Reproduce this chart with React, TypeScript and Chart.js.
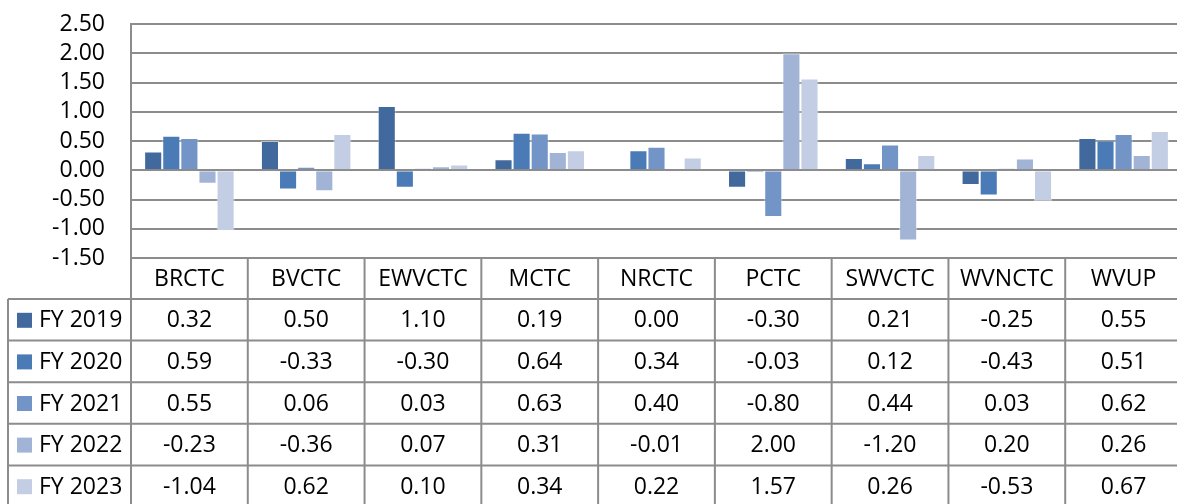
import React, { useEffect, useRef } from "react";
import { Chart, registerables } from "chart.js";

Chart.register(...registerables);

const categories = ["BRCTC", "BVCTC", "EWVCTC", "MCTC", "NRCTC", "PCTC", "SWVCTC", "WVNCTC", "WVUP"];
const seriesNames = ["FY 2019", "FY 2020", "FY 2021", "FY 2022", "FY 2023"];
const fy2019 = [0.32, 0.5, 1.1, 0.19, 0.0, -0.3, 0.21, -0.25, 0.55];
const fy2020 = [0.59, -0.33, -0.3, 0.64, 0.34, -0.03, 0.12, -0.43, 0.51];
const fy2021 = [0.55, 0.06, 0.03, 0.63, 0.4, -0.8, 0.44, 0.03, 0.62];
const fy2022 = [-0.23, -0.36, 0.07, 0.31, -0.01, 2.0, -1.2, 0.2, 0.26];
const fy2023 = [-1.04, 0.62, 0.1, 0.34, 0.22, 1.57, 0.26, -0.53, 0.67];
const seriesColors = ["#41699e", "#4a7bb6", "#7394c7", "#a2b4d6", "#c3cde3"];
const yTicks = [-1.5, -1.0, -0.5, 0.0, 0.5, 1.0, 1.5, 2.0, 2.5];

const allSeries = [fy2019, fy2020, fy2021, fy2022, fy2023];

const FONT = "'Open Sans', 'Noto Sans', sans-serif";
const FONT_SIZE = 23;
const GRID = "#8c8c8c";

const tablePlugin = {
  id: "dataTable",
  afterDraw(chart: any) {
    const ctx = chart.ctx as CanvasRenderingContext2D;
    const { left, right, bottom } = chart.chartArea;
    const n = categories.length;
    const w = (right - left) / n;
    const headerH = 41;
    const rowH = 41.6;
    const rowTop = bottom + headerH;
    const tableLeft = 8;
    const endY = 520;
    ctx.save();
    ctx.strokeStyle = GRID;
    ctx.lineWidth = 2;
    ctx.beginPath();
    for (let j = 0; j <= n; j++) {
      const xx = left + j * w;
      ctx.moveTo(xx, bottom);
      ctx.lineTo(xx, endY);
    }
    ctx.moveTo(tableLeft, rowTop);
    ctx.lineTo(tableLeft, endY);
    for (let k = 0; k <= seriesNames.length; k++) {
      const yy = rowTop + k * rowH;
      ctx.moveTo(tableLeft, yy);
      ctx.lineTo(right, yy);
    }
    ctx.stroke();

    ctx.fillStyle = "#000";
    ctx.font = `${FONT_SIZE}px ${FONT}`;
    ctx.textBaseline = "middle";
    ctx.textAlign = "center";
    categories.forEach((c, i) => {
      ctx.fillText(c, left + (i + 0.5) * w, bottom + headerH / 2 + 1);
    });
    allSeries.forEach((s, r) => {
      const cy = rowTop + (r + 0.5) * rowH + 1;
      ctx.textAlign = "center";
      ctx.fillStyle = "#000";
      s.forEach((v, i) => {
        ctx.fillText(v.toFixed(2), left + (i + 0.5) * w, cy);
      });
      ctx.fillStyle = seriesColors[r];
      ctx.fillRect(17, cy - 8, 15, 15);
      ctx.fillStyle = "#000";
      ctx.textAlign = "left";
      ctx.fillText(seriesNames[r], 39, cy);
    });
    ctx.restore();
  },
};

export default function App() {
  const ref = useRef<HTMLCanvasElement>(null);
  useEffect(() => {
    document.body.style.margin = "0";
    document.documentElement.style.overflow = "hidden";
    document.body.style.overflow = "hidden";
    const canvas = ref.current!;
    const chart = new Chart(canvas, {
      type: "bar",
      data: {
        labels: categories,
        datasets: allSeries.map((s, i) => ({
          label: seriesNames[i],
          data: s,
          backgroundColor: seriesColors[i],
          borderColor: "rgba(255,255,255,0.45)",
          borderWidth: 1,
          barPercentage: 1,
          categoryPercentage: 0.775,
        })),
      },
      options: {
        responsive: false,
        maintainAspectRatio: false,
        animation: false,
        layout: { padding: { top: 24, bottom: 246, right: 1, left: 0 } },
        plugins: { legend: { display: false }, tooltip: { enabled: false } },
        scales: {
          x: { display: false },
          y: {
            min: -1.5,
            max: 2.5,
            afterBuildTicks: (scale: any) => {
              scale.ticks = yTicks.map((v) => ({ value: v }));
            },
            afterFit: (scale: any) => {
              scale.width = 131;
              scale.paddingTop = 0;
              scale.paddingBottom = 0;
            },
            ticks: {
              color: "#000",
              padding: 26,
              autoSkip: false,
              font: { family: FONT, size: FONT_SIZE },
              callback: (v: any) => Number(v).toFixed(2),
            },
            grid: { color: GRID, lineWidth: 2, drawTicks: false },
            border: { color: GRID, width: 2 },
          },
        },
      },
      plugins: [tablePlugin],
    });
    return () => chart.destroy();
  }, []);
  return (
    <div style={{ position: "absolute", left: 0, top: 0, width: 1183, height: 504, overflow: "hidden" }}>
      <canvas ref={ref} width={1183} height={504} style={{ display: "block" }} />
    </div>
  );
}
